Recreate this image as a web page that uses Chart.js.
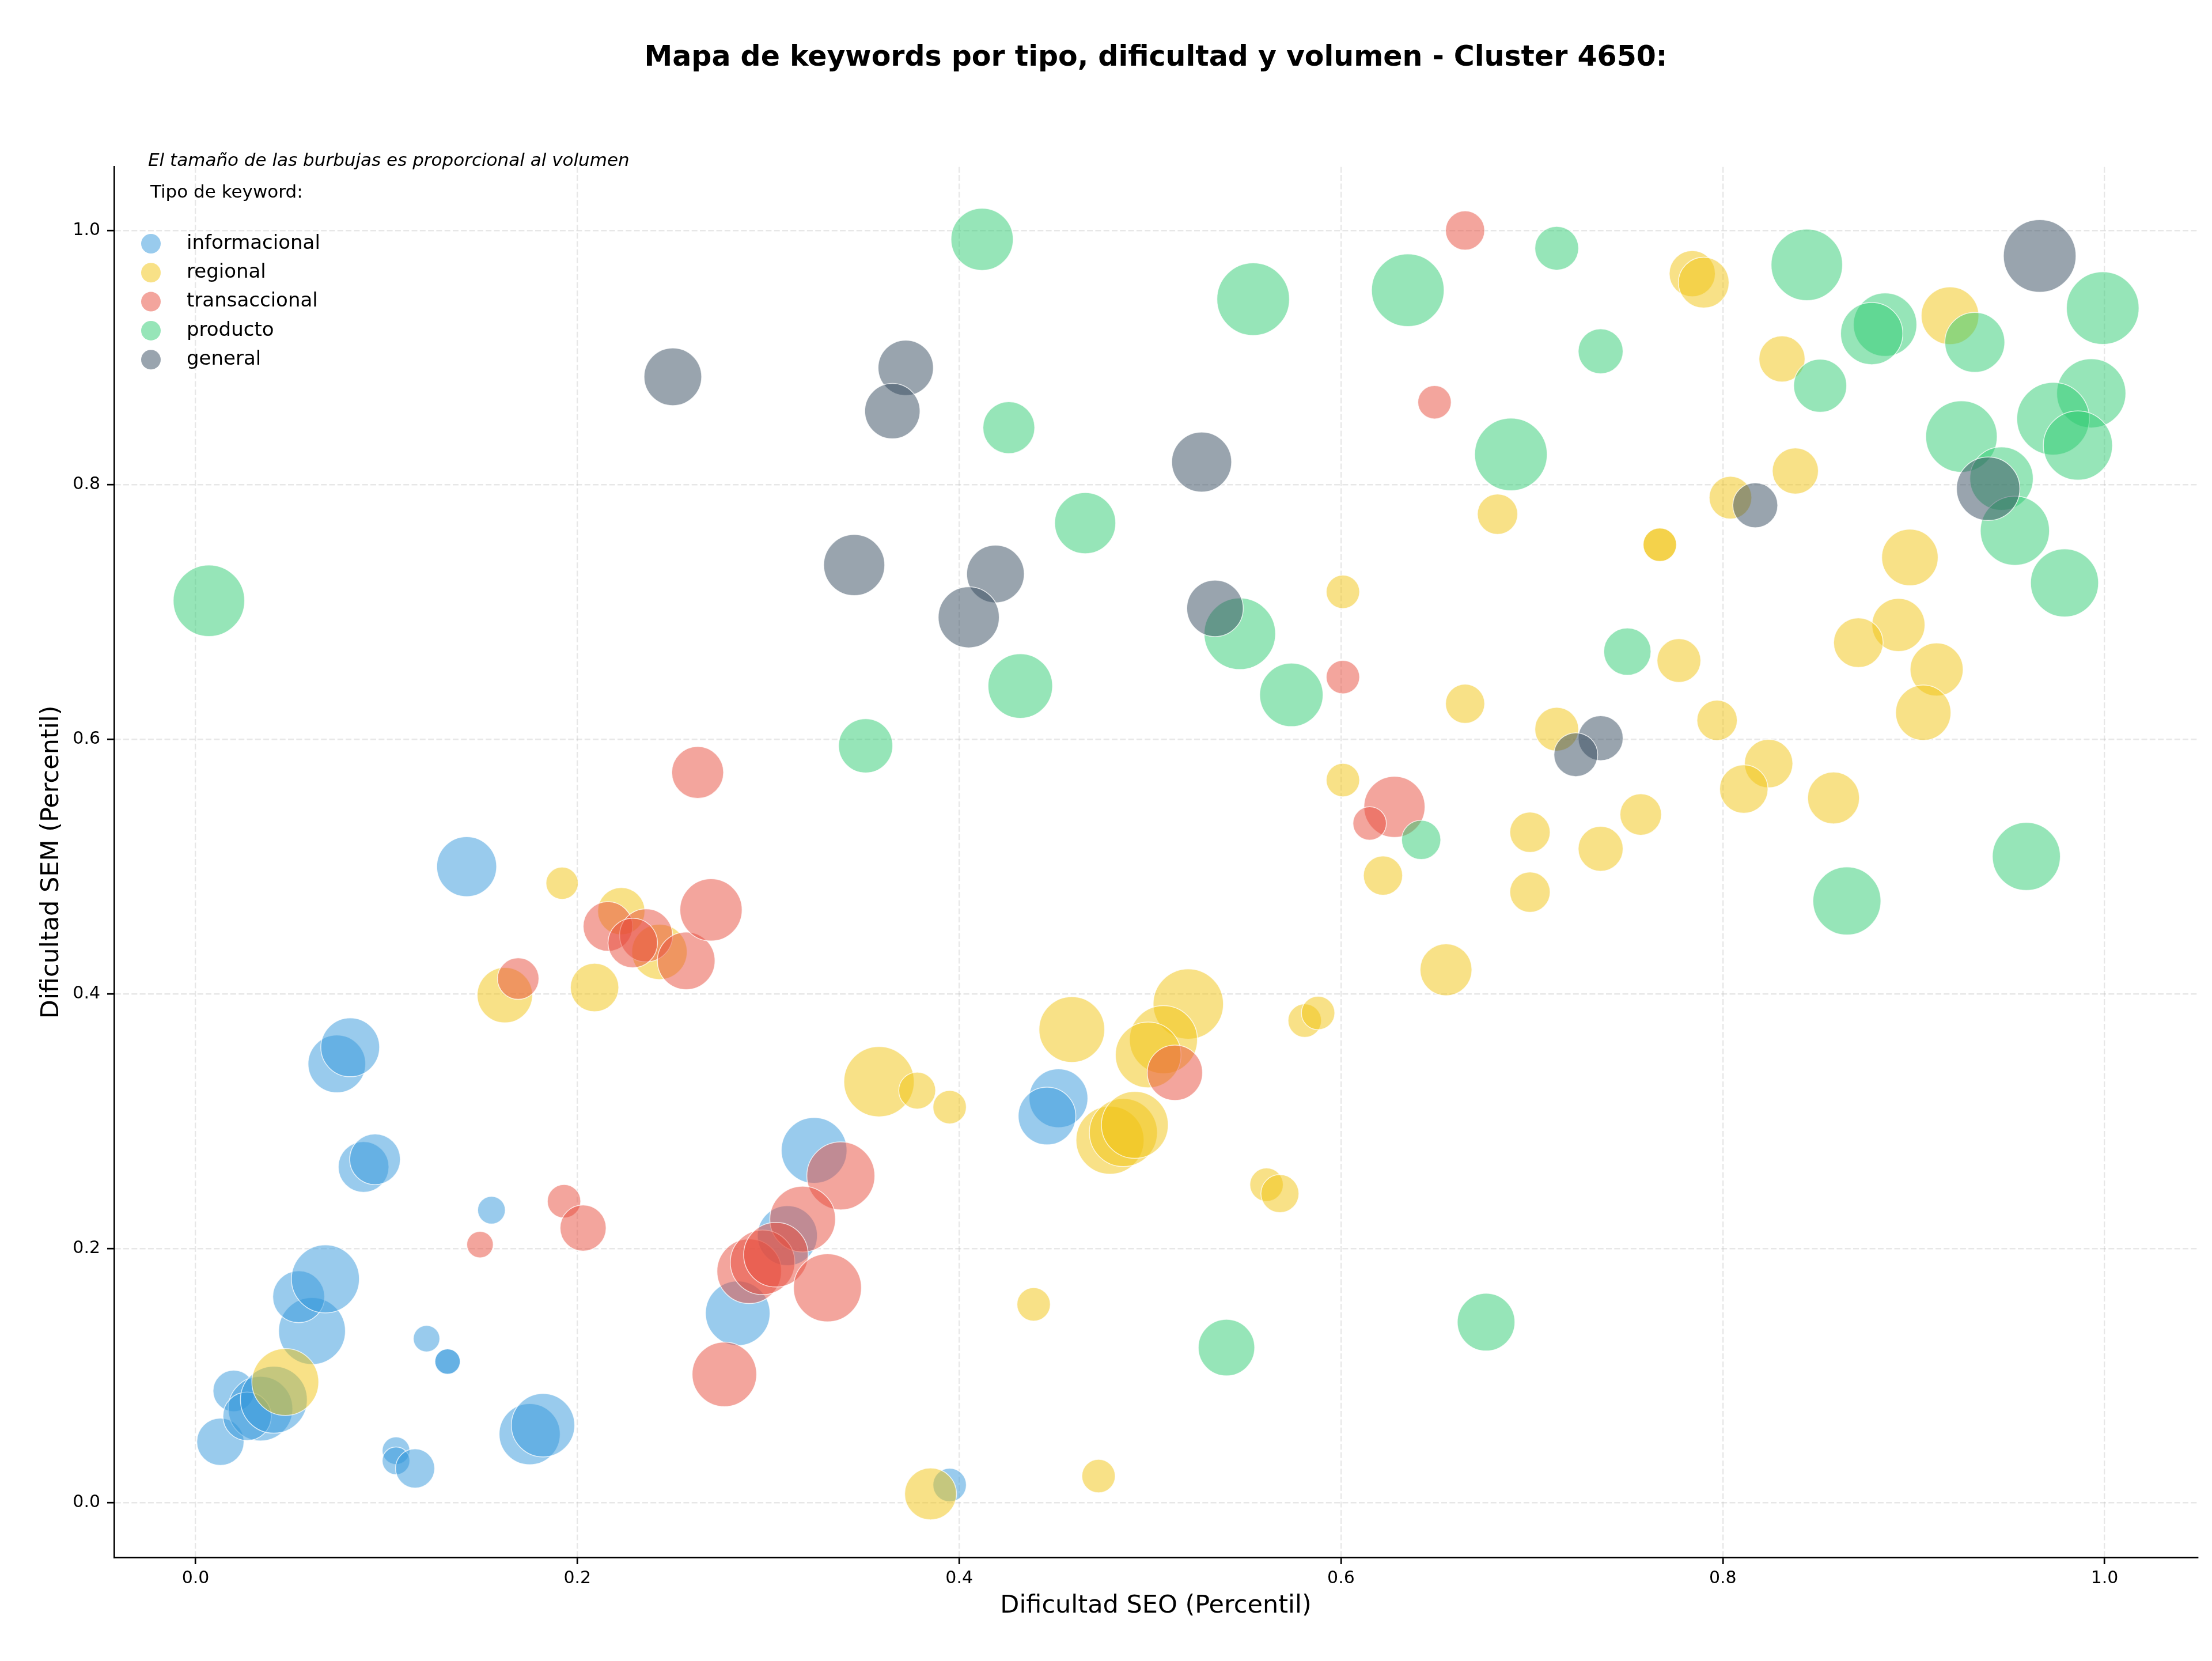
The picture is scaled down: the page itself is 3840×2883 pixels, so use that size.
<!DOCTYPE html>
<html>
<head>
<meta charset="utf-8">
<script src="https://cdn.jsdelivr.net/npm/chart.js@4.4.0/dist/chart.umd.min.js"></script>
<style>
  html, body { margin: 0; padding: 0; background: #fff; }
  canvas { display: block; }
</style>
</head>
<body>
<canvas id="mapaKeywords" width="3840" height="2883"></canvas>
<script>
// Dificultad SEO (x), dificultad SEM (y) y volumen de cada keyword, por tipo
var infoSeo = [0.013, 0.020, 0.034, 0.027, 0.041, 0.061, 0.054, 0.068, 0.074, 0.081, 0.088, 0.094, 0.142, 0.155,
               0.121, 0.132, 0.132, 0.105, 0.105, 0.115, 0.175, 0.182, 0.324, 0.310, 0.284, 0.395, 0.452, 0.446];
var infoSem = [0.048, 0.088, 0.074, 0.068, 0.081, 0.135, 0.162, 0.176, 0.345, 0.358, 0.264, 0.270, 0.500, 0.230,
               0.129, 0.111, 0.111, 0.041, 0.033, 0.027, 0.054, 0.061, 0.277, 0.210, 0.149, 0.014, 0.318, 0.304];
var infoVol = [1681, 1296, 3136, 1764, 3364, 3364, 2025, 3481, 2500, 2601, 1936, 1936, 2704, 576,
               529, 484, 484, 576, 576, 1156, 2809, 3025, 3249, 2704, 3136, 841, 2601, 2500];

var regSeo = [0.047, 0.192, 0.223, 0.162, 0.209, 0.243, 0.358, 0.378, 0.395, 0.385, 0.439, 0.473, 0.459, 0.479,
              0.486, 0.492, 0.520, 0.507, 0.499, 0.561, 0.568, 0.581, 0.588, 0.655, 0.622, 0.699, 0.682, 0.767,
              0.767, 0.601, 0.665, 0.713, 0.601, 0.699, 0.736, 0.757, 0.784, 0.790, 0.919, 0.831, 0.838, 0.804,
              0.898, 0.892, 0.871, 0.912, 0.905, 0.777, 0.797, 0.824, 0.811, 0.858];
var regSem = [0.095, 0.487, 0.465, 0.399, 0.405, 0.433, 0.331, 0.324, 0.311, 0.007, 0.156, 0.021, 0.372, 0.285,
              0.291, 0.297, 0.392, 0.364, 0.352, 0.250, 0.243, 0.379, 0.385, 0.419, 0.493, 0.480, 0.777, 0.753,
              0.753, 0.716, 0.628, 0.608, 0.568, 0.527, 0.514, 0.541, 0.966, 0.959, 0.933, 0.899, 0.811, 0.790,
              0.743, 0.690, 0.676, 0.655, 0.621, 0.662, 0.615, 0.581, 0.561, 0.554];
var regVol = [3364, 784, 1681, 2304, 1764, 2304, 3721, 1024, 841, 2025, 841, 841, 3249, 3481,
              3481, 3364, 3721, 3481, 3249, 841, 1089, 841, 841, 2025, 1156, 1225, 1225, 841,
              841, 841, 1156, 1444, 841, 1225, 1521, 1296, 1600, 1936, 2500, 1600, 1600, 1369,
              2401, 2116, 1849, 2116, 2304, 1444, 1225, 1764, 1764, 2025];

var transSeo = [0.216, 0.236, 0.229, 0.257, 0.270, 0.169, 0.193, 0.203, 0.149, 0.263, 0.338, 0.318, 0.290, 0.297,
                0.304, 0.331, 0.277, 0.513, 0.665, 0.649, 0.601, 0.628, 0.615];
var transSem = [0.453, 0.446, 0.440, 0.426, 0.466, 0.412, 0.237, 0.216, 0.203, 0.574, 0.257, 0.223, 0.182, 0.189,
                0.195, 0.169, 0.101, 0.338, 1.000, 0.865, 0.649, 0.547, 0.534];
var transVol = [1849, 2116, 1849, 2500, 2916, 1296, 841, 1600, 529, 2025, 3481, 3249, 3136, 3136,
                3136, 3481, 3136, 2304, 1156, 841, 841, 2809, 841];

var prodSeo = [0.007, 0.412, 0.426, 0.466, 0.432, 0.351, 0.554, 0.635, 0.713, 0.736, 0.689, 0.547, 0.574, 0.750,
               0.642, 0.540, 0.676, 0.844, 0.999, 0.932, 0.885, 0.878, 0.851, 0.993, 0.973, 0.986, 0.925, 0.946,
               0.953, 0.979, 0.865, 0.959];
var prodSem = [0.709, 0.993, 0.845, 0.770, 0.642, 0.595, 0.946, 0.953, 0.986, 0.905, 0.824, 0.683, 0.635, 0.669,
               0.521, 0.122, 0.142, 0.973, 0.939, 0.912, 0.926, 0.919, 0.878, 0.872, 0.852, 0.831, 0.838, 0.805,
               0.764, 0.723, 0.473, 0.508];
var prodVol = [3844, 2916, 2025, 2809, 3136, 2209, 3969, 3969, 1444, 1521, 3969, 3844, 3025, 1681,
               1156, 2401, 2500, 3844, 3969, 2704, 3025, 2916, 2116, 3600, 3969, 3600, 3844, 3025,
               3600, 3481, 3481, 3481];

var genSeo = [0.250, 0.372, 0.365, 0.345, 0.419, 0.405, 0.527, 0.534, 0.736, 0.723, 0.966, 0.939, 0.817];
var genSem = [0.885, 0.892, 0.858, 0.737, 0.730, 0.696, 0.818, 0.703, 0.601, 0.588, 0.980, 0.797, 0.784];
var genVol = [2500, 2304, 2304, 2809, 2500, 2809, 2704, 2401, 1521, 1444, 3969, 3025, 1521];

var tipos = ['informacional', 'regional', 'transaccional', 'producto', 'general'];
var colores = ['rgba(52, 152, 219, 0.5)', 'rgba(241, 196, 15, 0.5)', 'rgba(231, 76, 60, 0.5)',
               'rgba(46, 204, 113, 0.5)', 'rgba(52, 73, 94, 0.5)'];

var fuente = '"DejaVu Sans", sans-serif';

function puntos(seo, sem, vol) {
    var lista = [];
    for (var i = 0; i < seo.length; i++) {
        lista.push({ x: seo[i], y: sem[i], r: Math.sqrt(vol[i]) }); // radio ~ raíz del volumen
    }
    return lista;
}

var series = [
    puntos(infoSeo, infoSem, infoVol),
    puntos(regSeo, regSem, regVol),
    puntos(transSeo, transSem, transVol),
    puntos(prodSeo, prodSem, prodVol),
    puntos(genSeo, genSem, genVol)
];

// Leyenda dibujada a mano dentro del área del gráfico
var leyendaPlugin = {
    id: 'leyendaTipos',
    afterDraw: function(chart) {
        var ctx = chart.ctx;
        var left = chart.chartArea.left;
        ctx.save();
        ctx.textAlign = 'left';
        ctx.textBaseline = 'middle';
        ctx.fillStyle = '#000';
        ctx.font = 'italic 31px ' + fuente;
        ctx.fillText('El tamaño de las burbujas es proporcional al volumen', left + 59, 280);
        ctx.font = '31px ' + fuente;
        ctx.fillText('Tipo de keyword:', left + 63, 335);
        chart.data.datasets.forEach(function(ds, i) {
            var y = 423 + i * 50.3;
            ctx.beginPath();
            ctx.arc(left + 64, y, 17, 0, Math.PI * 2);
            ctx.fillStyle = ds.backgroundColor;
            ctx.fill();
            ctx.fillStyle = '#000';
            ctx.font = '34px ' + fuente;
            ctx.fillText(ds.label, left + 126, y);
        });
        ctx.restore();
    }
};

var ejeComun = {
    type: 'linear',
    ticks: {
        stepSize: 0.2,
        includeBounds: false,
        color: '#000',
        font: { family: fuente, size: 30, lineHeight: 1 },
        callback: function(v) { return v.toFixed(1); }
    },
    grid: {
        color: 'rgba(176, 176, 176, 0.3)',
        lineWidth: 2.4,
        tickColor: '#000',
        tickWidth: 2.7,
        tickLength: 12,
        tickBorderDash: []
    },
    border: { display: true, color: '#000', width: 2.7, dash: [10, 4.3] }
};

var ctx = document.getElementById('mapaKeywords').getContext('2d');
var chart = new Chart(ctx, {
    type: 'bubble',
    data: {
        datasets: tipos.map(function(t, i) {
            return {
                label: t,
                data: series[i],
                backgroundColor: colores[i],
                borderColor: 'rgba(255, 255, 255, 0.75)',
                borderWidth: 1.5,
                order: tipos.length - i
            };
        })
    },
    options: {
        responsive: false,
        animation: false,
        devicePixelRatio: 1,
        events: [],
        layout: { autoPadding: false, padding: { top: 0, left: 0, right: 25, bottom: 0 } },
        plugins: {
            legend: { display: false },
            tooltip: { enabled: false },
            title: {
                display: true,
                fullSize: false,
                text: 'Mapa de keywords por tipo, dificultad y volumen - Cluster 4650:',
                color: '#000',
                font: { family: fuente, size: 49, weight: 'bold', lineHeight: 1.2 },
                padding: { top: 72, bottom: 159 }
            }
        },
        scales: {
            x: Object.assign({}, ejeComun, {
                min: -0.0427,
                max: 1.0487,
                ticks: Object.assign({}, ejeComun.ticks, { padding: 10 }),
                title: {
                    display: true,
                    text: 'Dificultad SEO (Percentil)',
                    color: '#000',
                    font: { family: fuente, size: 43 },
                    padding: { top: 0, bottom: 69 }
                },
                afterFit: function(scale) { scale.height = 180; }
            }),
            y: Object.assign({}, ejeComun, {
                min: -0.0428,
                max: 1.0499,
                ticks: Object.assign({}, ejeComun.ticks, { padding: 12 }),
                title: {
                    display: true,
                    text: 'Dificultad SEM (Percentil)',
                    color: '#000',
                    font: { family: fuente, size: 43 },
                    padding: { top: 64, bottom: 0 }
                },
                afterFit: function(scale) { scale.width = 198; }
            })
        }
    },
    plugins: [leyendaPlugin]
});
</script>
</body>
</html>
